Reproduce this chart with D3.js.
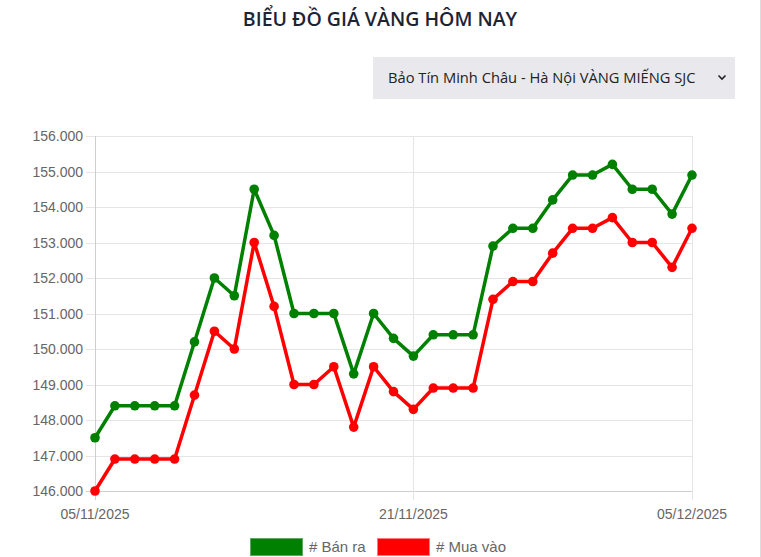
<!DOCTYPE html>
<html>
<head>
<meta charset="utf-8">
<script src="https://cdn.jsdelivr.net/npm/d3@7"></script>
<style>
  html, body { margin: 0; padding: 0; background: #fff; }
  svg { display: block; }
</style>
</head>
<body>
<svg id="chart" width="761" height="557"></svg>
<script>
const dates = ["05/11/2025","06/11/2025","07/11/2025","08/11/2025","09/11/2025","10/11/2025","11/11/2025","12/11/2025","13/11/2025","14/11/2025","15/11/2025","16/11/2025","17/11/2025","18/11/2025","19/11/2025","20/11/2025","21/11/2025","22/11/2025","23/11/2025","24/11/2025","25/11/2025","26/11/2025","27/11/2025","28/11/2025","29/11/2025","30/11/2025","01/12/2025","02/12/2025","03/12/2025","04/12/2025","05/12/2025"];
const sellValues = [147500,148400,148400,148400,148400,150200,152000,151500,154500,153200,151000,151000,151000,149300,151000,150300,149800,150400,150400,150400,152900,153400,153400,154200,154900,154900,155200,154500,154500,153800,154900];
const buyValues = [146000,146900,146900,146900,146900,148700,150500,150000,153000,151200,149000,149000,149500,147800,149500,148800,148300,148900,148900,148900,151400,151900,151900,152700,153400,153400,153700,153000,153000,152300,153400];
const xTickLabels = ["05/11/2025","21/11/2025","05/12/2025"];
const yTicks = [146000,147000,148000,149000,150000,151000,152000,153000,154000,155000,156000];
const seriesNames = ["# Bán ra","# Mua vào"];
const seriesColors = ["#008000","#ff0000"];
const titleText = "BIỂU ĐỒ GIÁ VÀNG HÔM NAY";
const selectText = "Bảo Tín Minh Châu - Hà Nội VÀNG MIẾNG SJC";

const svg = d3.select("#chart");
const W = 761, H = 557;
const plot = {left: 95, right: 692, top: 136, bottom: 491};

const vn = d3.formatLocale({decimal: ",", thousands: ".", grouping: [3], currency: ["", "đ"]});
const fmt = vn.format(",d");

// right edge border
svg.append("line").attr("x1", 760.5).attr("x2", 760.5).attr("y1", 0).attr("y2", H)
  .attr("stroke", "#dcdcdc").attr("stroke-width", 1);

// title
svg.append("text").attr("x", 380).attr("y", 26).attr("text-anchor", "middle")
  .attr("font-family", "Open Sans, sans-serif").attr("font-weight", 600)
  .attr("font-size", 19.5).attr("fill", "#1c2434").text(titleText);

// dropdown
svg.append("rect").attr("x", 373).attr("y", 57).attr("width", 362).attr("height", 42)
  .attr("fill", "#e9e9ed");
svg.append("text").attr("x", 388).attr("y", 83)
  .attr("font-family", "Open Sans, sans-serif").attr("font-size", 14.7)
  .attr("fill", "#222").text(selectText);
svg.append("path").attr("d", "M718.5,75.5 L722,79 L725.5,75.5")
  .attr("fill", "none").attr("stroke", "#222").attr("stroke-width", 1.6);

const x = d3.scalePoint().domain(dates).range([plot.left, plot.right]);
const y = d3.scaleLinear().domain([146000, 156000]).range([plot.bottom, plot.top]);

// horizontal grid
const g = svg.append("g");
g.selectAll("line.hg").data(yTicks).join("line")
  .attr("x1", plot.left - 9).attr("x2", plot.right)
  .attr("y1", d => Math.round(y(d)) + 0.5).attr("y2", d => Math.round(y(d)) + 0.5)
  .attr("stroke", d => d === 146000 ? "#cfcfcf" : "#e5e5e5").attr("stroke-width", 1);
// vertical grid at shown ticks
g.selectAll("line.vg").data(xTickLabels).join("line")
  .attr("x1", d => Math.round(x(d)) + 0.5).attr("x2", d => Math.round(x(d)) + 0.5)
  .attr("y1", plot.top).attr("y2", plot.bottom + 9)
  .attr("stroke", (d, i) => i === 0 ? "#cfcfcf" : "#e5e5e5").attr("stroke-width", 1);

// y labels
g.selectAll("text.yl").data(yTicks).join("text")
  .attr("x", plot.left - 12).attr("y", d => y(d) + 5).attr("text-anchor", "end")
  .attr("font-family", "Liberation Sans, Arial, sans-serif").attr("font-size", 14)
  .attr("fill", "#666").text(d => fmt(d));
// x labels
g.selectAll("text.xl").data(xTickLabels).join("text")
  .attr("x", d => x(d)).attr("y", 519).attr("text-anchor", "middle")
  .attr("font-family", "Liberation Sans, Arial, sans-serif").attr("font-size", 14)
  .attr("fill", "#666").text(d => d);

// lines
const series = [sellValues, buyValues];
const line = d3.line().x((d, i) => x(dates[i])).y(d => y(d));
series.forEach((vals, si) => {
  svg.append("path").datum(vals).attr("d", line)
    .attr("fill", "none").attr("stroke", seriesColors[si]).attr("stroke-width", 3.5)
    .attr("stroke-linejoin", "round");
  svg.append("g").selectAll("circle").data(vals).join("circle")
    .attr("cx", (d, i) => x(dates[i])).attr("cy", d => y(d)).attr("r", 4.8)
    .attr("fill", seriesColors[si]);
});

// legend
const legendX = [250, 377];
seriesNames.forEach((name, i) => {
  svg.append("rect").attr("x", legendX[i] + 0.5).attr("y", 538.5).attr("width", 52).attr("height", 17)
    .attr("fill", seriesColors[i]).attr("stroke", i === 0 ? "#5fa85f" : "#ff7a7a").attr("stroke-width", 1);
  svg.append("text").attr("x", legendX[i] + 59).attr("y", 552)
    .attr("font-family", "Liberation Sans, Arial, sans-serif").attr("font-size", 15)
    .attr("fill", "#666").text(name);
});
</script>
</body>
</html>
